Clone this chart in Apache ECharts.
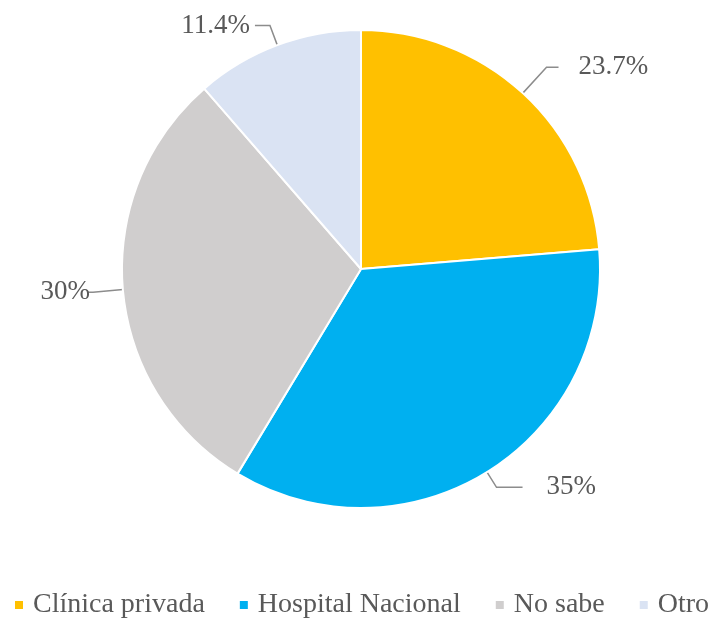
<!DOCTYPE html>
<html>
<head>
<meta charset="utf-8">
<script src="https://cdn.jsdelivr.net/npm/echarts@6/dist/echarts.min.js"></script>
<style>
  html, body { margin: 0; padding: 0; background: #fff; }
  #chart { width: 727px; height: 620px; }
</style>
</head>
<body>
<div id="chart"></div>
<script>
// Lugar de atención: share of responses per category
const categories = ['Clínica privada', 'Hospital Nacional', 'No sabe', 'Otro'];
const values = [23.7, 35, 30, 11.4];
const colors = ['#FFC000', '#00B0F0', '#D0CECE', '#DAE3F3'];

// leader line per slice: radial segment, horizontal segment, gap to text, lift of text
const leaderLen = [[35, 12], [18, 26], [30, 6], [21, 15]];
const labelGap = [20, 24, -3, 5];
const labelLift = [10, 2, 8, 18];

const FONT = '"Liberation Serif", "DejaVu Serif", serif';

const chart = echarts.init(document.getElementById('chart'));
chart.setOption({
  animation: false,
  color: colors,
  legend: {
    data: categories,
    left: 8,
    bottom: -4,
    width: 1400,
    itemWidth: 10,
    itemHeight: 10,
    itemGap: 33,
    icon: 'rect',
    textStyle: { fontFamily: FONT, fontSize: 28, color: '#595959', padding: [0, 0, 0, 4] }
  },
  series: [{
    type: 'pie',
    center: [361, 269],
    radius: [0, 239],
    startAngle: 90,
    clockwise: true,
    data: categories.map((name, i) => ({
      name,
      value: values[i],
      labelLine: { length: leaderLen[i][0], length2: leaderLen[i][1] },
      label: { distanceToLabelLine: labelGap[i], padding: [0, 0, labelLift[i], 0] }
    })),
    itemStyle: { borderColor: '#fff', borderWidth: 2 },
    label: {
      show: true,
      formatter: p => p.value + '%',
      fontFamily: FONT,
      fontSize: 27,
      color: '#595959'
    },
    labelLine: {
      show: true,
      lineStyle: { color: '#8c8c8c', width: 1.5 }
    }
  }]
});
</script>
</body>
</html>
